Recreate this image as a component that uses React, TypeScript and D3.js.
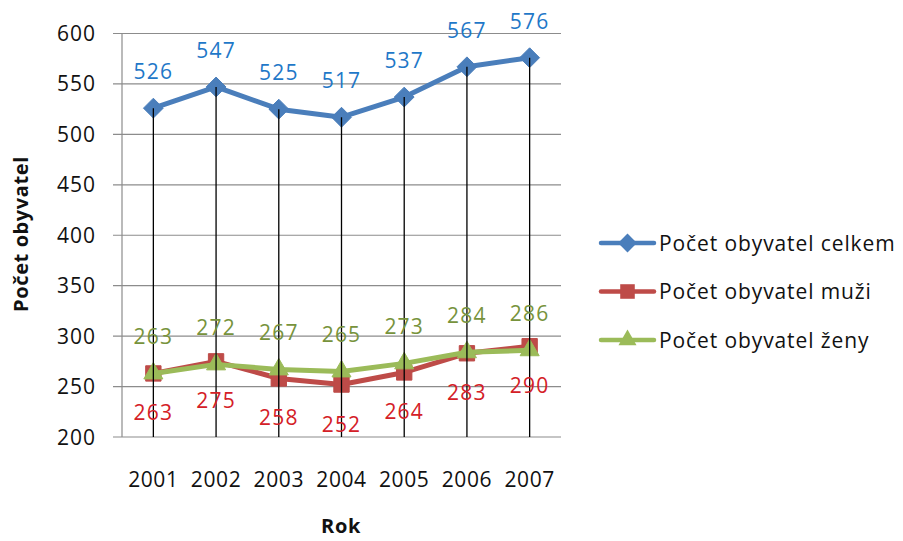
import React, { useEffect, useRef } from 'react';
import * as d3 from 'd3';

const years = ['2001', '2002', '2003', '2004', '2005', '2006', '2007'];
const celkem = [526, 547, 525, 517, 537, 567, 576];
const muzi = [263, 275, 258, 252, 264, 283, 290];
const zeny = [263, 272, 267, 265, 273, 284, 286];
const yTicks = [200, 250, 300, 350, 400, 450, 500, 550, 600];
const seriesNames = ['Počet obyvatel celkem', 'Počet obyvatel muži', 'Počet obyvatel ženy'];

const W = 903;
const H = 541;
const FONT = '"Open Sans", "Noto Sans", sans-serif';

export default function App() {
    const ref = useRef<SVGSVGElement>(null);

    useEffect(() => {
        const svg = d3.select(ref.current);
        svg.selectAll('*').remove();

        const x = d3.scaleBand().domain(years).range([122, 561]);
        const y = d3.scaleLinear().domain([200, 600]).range([437, 33.5]);
        const cx = (d: string) => (x(d) as number) + x.bandwidth() / 2;

        // gridlines
        svg.append('g')
            .selectAll('line')
            .data(yTicks)
            .enter()
            .append('line')
            .attr('x1', 113)
            .attr('x2', 561)
            .attr('y1', (d) => y(d))
            .attr('y2', (d) => y(d))
            .style('stroke', '#8c8c8c')
            .style('stroke-width', 1.2);

        // y axis line
        svg.append('line')
            .attr('x1', 122).attr('x2', 122)
            .attr('y1', y(600)).attr('y2', y(200))
            .style('stroke', '#8c8c8c').style('stroke-width', 1.2);

        // y tick labels
        svg.append('g')
            .selectAll('text')
            .data(yTicks)
            .enter()
            .append('text')
            .attr('x', 96)
            .attr('y', (d) => y(d) + 7.5)
            .attr('text-anchor', 'end')
            .style('font-family', FONT)
            .style('font-size', '21px')
            .style('letter-spacing', '1px')
            .style('fill', '#111')
            .text((d) => d);

        // x tick labels
        svg.append('g')
            .selectAll('text')
            .data(years)
            .enter()
            .append('text')
            .attr('x', (d) => cx(d))
            .attr('y', 487)
            .attr('text-anchor', 'middle')
            .style('font-family', FONT)
            .style('font-size', '21px')
            .style('letter-spacing', '0.6px')
            .style('fill', '#111')
            .text((d) => d);

        const line = d3.line<number>()
            .x((_, i) => cx(years[i]))
            .y((d) => y(d));

        const series = [
            { values: celkem, color: '#4a7ebb', marker: 'diamond', label: '#1f78c8', pos: 'above' },
            { values: muzi, color: '#be4b48', marker: 'square', label: '#d42027', pos: 'below' },
            { values: zeny, color: '#9bbb59', marker: 'triangle', label: '#77933c', pos: 'above' },
        ];

        const markerPath = (m: string, size = 1) => {
            if (m === 'diamond') return d3.symbol(d3.symbolDiamond2, 250 * size)();
            if (m === 'square') return d3.symbol(d3.symbolSquare2, 300 * size)();
            return d3.symbol(d3.symbolTriangle2, 260 * size)();
        };

        series.forEach((s) => {
            svg.append('path')
                .datum(s.values)
                .attr('d', line)
                .style('fill', 'none')
                .style('stroke', s.color)
                .style('stroke-width', 5)
                .style('stroke-linejoin', 'round')
                .style('stroke-linecap', 'round');

            svg.append('g')
                .selectAll('path')
                .data(s.values)
                .enter()
                .append('path')
                .attr('d', markerPath(s.marker))
                .attr('transform', (d, i) => `translate(${cx(years[i])}, ${y(d)})`)
                .style('fill', s.color)
                .style('stroke', s.color)
                .style('stroke-width', 1);
        });

        // drop lines, drawn over the markers like the original
        svg.append('g')
            .selectAll('line')
            .data(years)
            .enter()
            .append('line')
            .attr('x1', (d) => cx(d))
            .attr('x2', (d) => cx(d))
            .attr('y1', (_, i) => y(Math.max(celkem[i], muzi[i], zeny[i])))
            .attr('y2', y(200))
            .style('stroke', '#000')
            .style('stroke-width', 1.3);

        // data labels
        series.forEach((s) => {
            svg.append('g')
                .selectAll('text')
                .data(s.values)
                .enter()
                .append('text')
                .attr('x', (_, i) => cx(years[i]))
                .attr('y', (d) => (s.pos === 'above' ? y(d) - 29 : y(d) + 47))
                .attr('text-anchor', 'middle')
                .style('font-family', FONT)
                .style('font-size', '21px')
                .style('letter-spacing', '1.2px')
                .style('fill', s.label)
                .text((d) => d);
        });

        // legend
        const legend = svg.append('g');
        series.forEach((s, i) => {
            const ly = 243 + i * 48.5;
            legend.append('line')
                .attr('x1', 601).attr('x2', 654)
                .attr('y1', ly).attr('y2', ly)
                .style('stroke', s.color)
                .style('stroke-width', 4.5)
                .style('stroke-linecap', 'round');
            legend.append('path')
                .attr('d', markerPath(s.marker, 0.9))
                .attr('transform', `translate(627.5, ${ly})`)
                .style('fill', s.color);
            legend.append('text')
                .attr('x', 659)
                .attr('y', ly + 7.5)
                .style('font-family', FONT)
                .style('font-size', '21px')
                .style('letter-spacing', '0.9px')
                .style('fill', '#111')
                .text(seriesNames[i]);
        });

        // axis titles
        svg.append('text')
            .attr('transform', `translate(28, 234) rotate(-90)`)
            .attr('text-anchor', 'middle')
            .style('font-family', FONT)
            .style('font-size', '20px')
            .style('letter-spacing', '0.6px')
            .style('font-weight', 'bold')
            .style('fill', '#111')
            .text('Počet obyvatel');

        svg.append('text')
            .attr('x', 341)
            .attr('y', 533)
            .attr('text-anchor', 'middle')
            .style('font-family', FONT)
            .style('font-size', '20px')
            .style('letter-spacing', '0.6px')
            .style('font-weight', 'bold')
            .style('fill', '#111')
            .text('Rok');
    }, []);

    return (
        <svg
            ref={ref}
            width={W}
            height={H}
            style={{ position: 'absolute', left: 0, top: 0, background: '#fff' }}
        />
    );
}
